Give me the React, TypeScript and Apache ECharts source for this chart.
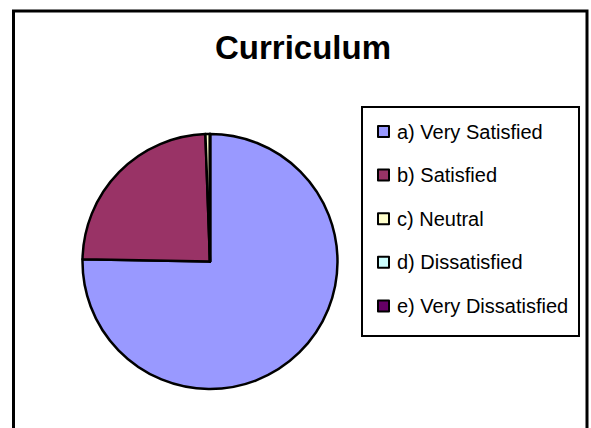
import React, { useEffect, useRef } from "react";
import * as echarts from "echarts";

const categories = [
  "a) Very Satisfied",
  "b) Satisfied",
  "c) Neutral",
  "d) Dissatisfied",
  "e) Very Dissatisfied",
];
const values = [131, 42, 1, 0, 0];
const colors = ["#9999FF", "#993366", "#FFFFCC", "#CCFFFF", "#660066"];
const titleText = "Curriculum";

export default function App() {
  const ref = useRef<HTMLDivElement>(null);
  useEffect(() => {
    if (!ref.current) return;
    const chart = echarts.init(ref.current, undefined, { renderer: "svg" });
    chart.setOption({
      animation: false,
      backgroundColor: "#ffffff",
      title: {
        text: titleText,
        left: 298,
        top: 26,
        textAlign: "center",
        textStyle: {
          fontFamily: "Liberation Sans, Arial, sans-serif",
          fontWeight: "bold",
          fontSize: 33,
          color: "#000",
        },
      },
      graphic: [
        {
          type: "rect",
          shape: { x: 13.5, y: 11, width: 573.5, height: 440 },
          style: { fill: "none", stroke: "#000", lineWidth: 3 },
          silent: true,
        },
        {
          type: "rect",
          shape: { x: 362, y: 107, width: 217, height: 229 },
          style: { fill: "none", stroke: "#000", lineWidth: 2 },
          silent: true,
        },
      ],
      legend: {
        orient: "vertical",
        left: 372,
        top: 116.5,
        itemWidth: 11,
        itemHeight: 11,
        itemGap: 23.6,
        icon: "rect",
        selectedMode: false,
        itemStyle: { borderColor: "#000", borderWidth: 2 },
        textStyle: {
          fontFamily: "Liberation Sans, Arial, sans-serif",
          fontSize: 20,
          lineHeight: 20,
          color: "#000",
          padding: [0, 0, 0, 3],
        },
        data: categories,
      },
      series: [
        {
          type: "pie",
          center: [210, 261.5],
          radius: 127.5,
          startAngle: 90,
          clockwise: true,
          label: { show: false },
          labelLine: { show: false },
          emphasis: { disabled: true },
          itemStyle: { borderColor: "#000", borderWidth: 2.5 },
          data: categories.map((name, i) => ({
            name,
            value: values[i],
            itemStyle: { color: colors[i] },
          })),
        },
      ],
    });
    return () => chart.dispose();
  }, []);
  return (
    <div
      ref={ref}
      style={{ position: "fixed", left: 0, top: 0, width: 591, height: 428 }}
    />
  );
}
